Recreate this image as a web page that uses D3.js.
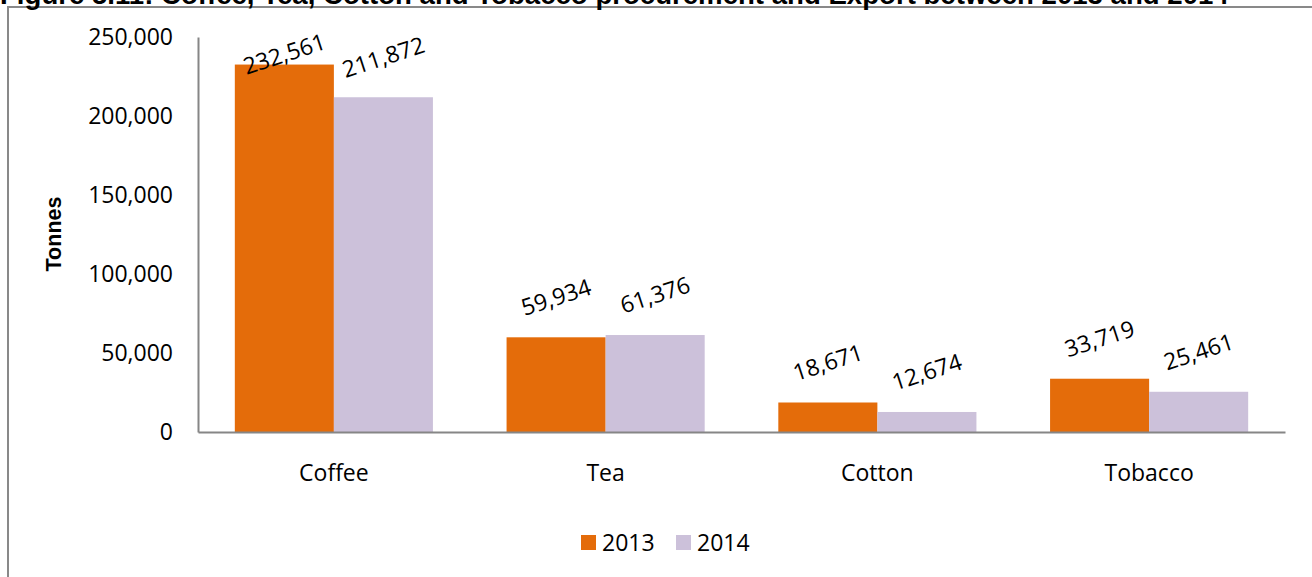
<!DOCTYPE html>
<html>
<head>
<meta charset="utf-8">
<script src="https://cdn.jsdelivr.net/npm/d3@7"></script>
<style>
  body { margin: 0; background: #fff; }
  .chart text { font-family: "Open Sans", sans-serif; fill: #000; }
  .axis .domain { stroke: #868686; stroke-width: 2; }
</style>
</head>
<body>
<div class="chart"></div>
<script>
// Chart data
var categories = ["Coffee", "Tea", "Cotton", "Tobacco"];
var years = ["2013", "2014"];
var values2013 = [232561, 59934, 18671, 33719];
var values2014 = [211872, 61376, 12674, 25461];
var yTicks = [0, 50000, 100000, 150000, 200000, 250000];
var colors = ["#E46C0A", "#CCC1DA"];

var titleText = "Figure 5.11: Coffee, Tea, Cotton and Tobacco procurement and Export between 2013 and 2014";

// SVG size
var svgWidth = 1312;
var svgHeight = 577;

// plot area edges
var plot = { left: 198, right: 1285, top: 37, bottom: 432 };

var svg = d3.select(".chart")
  .append("svg")
  .attr("width", svgWidth)
  .attr("height", svgHeight);

// outer frame of the chart object (only left and top edges show)
svg.append("rect")
  .attr("x", 8)
  .attr("y", 7)
  .attr("width", svgWidth + 20)
  .attr("height", svgHeight + 20)
  .attr("fill", "none")
  .attr("stroke", "#898989")
  .attr("stroke-width", 2);

// figure title, cut off by the top of the picture like in the source
svg.append("text")
  .attr("x", 0)
  .attr("y", 4)
  .style("font-family", "'Liberation Sans', Arial, sans-serif")
  .style("font-weight", "bold")
  .style("font-size", "27.6px")
  .text(titleText);

// rows of data for the grouped bars
var rows = categories.map(function(c, i) {
  return { category: c, values: [values2013[i], values2014[i]] };
});

// scales
var x0 = d3.scaleBand()
  .domain(categories)
  .range([plot.left, plot.right])
  .paddingInner(0.271)
  .paddingOuter(0.1355);

var x1 = d3.scaleBand()
  .domain(years)
  .range([0, x0.bandwidth()]);

var yScale = d3.scaleLinear()
  .domain([0, 250000])
  .range([plot.bottom, plot.top]);

// bars
var groups = svg.selectAll(".group")
  .data(rows)
  .enter()
  .append("g")
  .attr("class", "group")
  .attr("transform", function(d) { return "translate(" + x0(d.category) + ",0)"; });

groups.selectAll("rect")
  .data(function(d) {
    return d.values.map(function(v, j) { return { year: years[j], value: v, idx: j }; });
  })
  .enter()
  .append("rect")
  .attr("x", function(d) { return x1(d.year); })
  .attr("y", function(d) { return yScale(d.value); })
  .attr("width", x1.bandwidth())
  .attr("height", function(d) { return plot.bottom - yScale(d.value); })
  .attr("fill", function(d) { return colors[d.idx]; });

// rotated value labels above bars
groups.selectAll(".vlabel")
  .data(function(d) {
    return d.values.map(function(v, j) { return { year: years[j], value: v }; });
  })
  .enter()
  .append("text")
  .attr("class", "vlabel")
  .attr("transform", function(d) {
    var cx = x1(d.year) + x1.bandwidth() / 2;
    var cy = Math.max(yScale(d.value) - 40, plot.top + 17);
    return "translate(" + cx + "," + cy + ") rotate(-18)";
  })
  .attr("text-anchor", "middle")
  .attr("dy", "0.35em")
  .style("font-size", "23px")
  .text(function(d) { return d3.format(",")(d.value); });

// axes
var leftAxis = d3.axisLeft(yScale)
  .tickValues(yTicks)
  .tickFormat(d3.format(","))
  .tickSize(0)
  .tickPadding(25);

var bottomAxis = d3.axisBottom(x0)
  .tickSize(0)
  .tickPadding(33);

svg.append("g")
  .attr("class", "axis")
  .attr("transform", "translate(" + plot.left + ",0)")
  .call(leftAxis)
  .selectAll("text")
  .style("font-family", "'Open Sans', sans-serif")
  .style("font-size", "23px")
  .attr("fill", "#000");

svg.append("g")
  .attr("class", "axis")
  .attr("transform", "translate(0," + plot.bottom + ")")
  .call(bottomAxis)
  .selectAll("text")
  .style("font-family", "'Open Sans', sans-serif")
  .style("font-size", "23px")
  .attr("fill", "#000");

// y-axis label
svg.append("text")
  .attr("transform", "translate(61," + 234 + ") rotate(-90)")
  .attr("text-anchor", "middle")
  .style("font-family", "'Liberation Sans', Arial, sans-serif")
  .style("font-weight", "bold")
  .style("font-size", "21.5px")
  .text("Tonnes");

// legend
var legend = svg.append("g")
  .attr("transform", "translate(581,535)");

var legendItems = legend.selectAll("g")
  .data(years)
  .enter()
  .append("g")
  .attr("transform", function(d, i) { return "translate(" + (i * 95) + ",0)"; });

legendItems.append("rect")
  .attr("width", 15)
  .attr("height", 15)
  .attr("fill", function(d, i) { return colors[i]; });

legendItems.append("text")
  .attr("x", 21)
  .attr("y", 16)
  .style("font-size", "23px")
  .text(function(d) { return d; });
</script>
</body>
</html>
